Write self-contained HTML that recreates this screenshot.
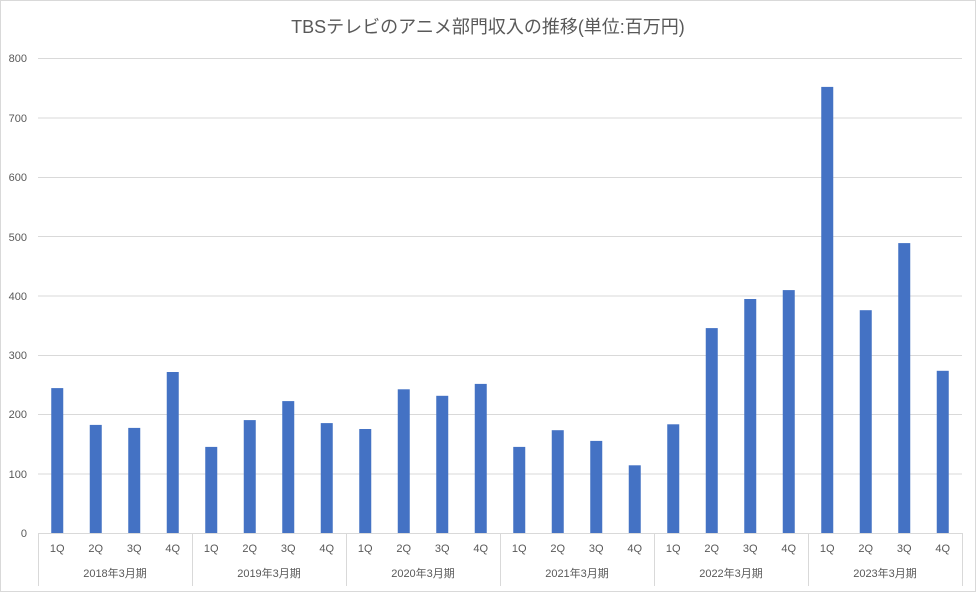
<!DOCTYPE html>
<html><head><meta charset="utf-8"><style>
html,body{margin:0;padding:0;background:#fff;}
svg text{font-family:"Liberation Sans","Noto Sans CJK JP",sans-serif;fill:#595959;}
</style></head><body>
<svg width="976" height="592" xmlns="http://www.w3.org/2000/svg">
<rect x="0.5" y="0.5" width="975" height="591" fill="#fff" stroke="#d9d9d9"/>
<text x="488" y="33" font-size="18" text-anchor="middle">TBSテレビのアニメ部門収入の推移(単位:百万円)</text>
<g stroke="#d9d9d9" stroke-width="1">
<line x1="38" x2="962" y1="58.5" y2="58.5"/>
<line x1="38" x2="962" y1="118" y2="118"/>
<line x1="38" x2="962" y1="177.5" y2="177.5"/>
<line x1="38" x2="962" y1="236.5" y2="236.5"/>
<line x1="38" x2="962" y1="296" y2="296"/>
<line x1="38" x2="962" y1="355.5" y2="355.5"/>
<line x1="38" x2="962" y1="414.5" y2="414.5"/>
<line x1="38" x2="962" y1="474" y2="474"/>
<line x1="38" x2="962" y1="533.5" y2="533.5"/>
<line x1="38.5" x2="38.5" y1="533" y2="586"/>
<line x1="192.5" x2="192.5" y1="533" y2="586"/>
<line x1="346.5" x2="346.5" y1="533" y2="586"/>
<line x1="500.5" x2="500.5" y1="533" y2="586"/>
<line x1="654.5" x2="654.5" y1="533" y2="586"/>
<line x1="808.5" x2="808.5" y1="533" y2="586"/>
<line x1="962.5" x2="962.5" y1="533" y2="586"/>
</g>
<g font-size="11" text-anchor="end">
<text x="27" y="62">800</text><text x="27" y="122">700</text><text x="27" y="181">600</text>
<text x="27" y="241">500</text><text x="27" y="300">400</text><text x="27" y="359">300</text>
<text x="27" y="418">200</text><text x="27" y="478">100</text><text x="27" y="537">0</text>
</g>
<g fill="#4472c4">
<rect x="51.25" y="388.1" width="12" height="144.9"/>
<rect x="89.75" y="424.9" width="12" height="108.1"/>
<rect x="128.25" y="427.9" width="12" height="105.1"/>
<rect x="166.75" y="372" width="12" height="161"/>
<rect x="205.25" y="446.9" width="12" height="86.1"/>
<rect x="243.75" y="420.1" width="12" height="112.9"/>
<rect x="282.25" y="401.1" width="12" height="131.9"/>
<rect x="320.75" y="423.1" width="12" height="109.9"/>
<rect x="359.25" y="429" width="12" height="104"/>
<rect x="397.75" y="389.3" width="12" height="143.7"/>
<rect x="436.25" y="395.8" width="12" height="137.2"/>
<rect x="474.75" y="383.9" width="12" height="149.1"/>
<rect x="513.25" y="446.9" width="12" height="86.1"/>
<rect x="551.75" y="430.2" width="12" height="102.8"/>
<rect x="590.25" y="440.9" width="12" height="92.1"/>
<rect x="628.75" y="465.3" width="12" height="67.7"/>
<rect x="667.25" y="424.3" width="12" height="108.7"/>
<rect x="705.75" y="328.1" width="12" height="204.9"/>
<rect x="744.25" y="299" width="12" height="234"/>
<rect x="782.75" y="290.1" width="12" height="242.9"/>
<rect x="821.25" y="86.9" width="12" height="446.1"/>
<rect x="859.75" y="310.2" width="12" height="222.8"/>
<rect x="898.25" y="243.1" width="12" height="289.9"/>
<rect x="936.75" y="370.8" width="12" height="162.2"/>
</g>
<g font-size="11" text-anchor="middle">
<text x="57.25" y="552">1Q</text><text x="95.75" y="552">2Q</text><text x="134.25" y="552">3Q</text><text x="172.75" y="552">4Q</text>
<text x="211.25" y="552">1Q</text><text x="249.75" y="552">2Q</text><text x="288.25" y="552">3Q</text><text x="326.75" y="552">4Q</text>
<text x="365.25" y="552">1Q</text><text x="403.75" y="552">2Q</text><text x="442.25" y="552">3Q</text><text x="480.75" y="552">4Q</text>
<text x="519.25" y="552">1Q</text><text x="557.75" y="552">2Q</text><text x="596.25" y="552">3Q</text><text x="634.75" y="552">4Q</text>
<text x="673.25" y="552">1Q</text><text x="711.75" y="552">2Q</text><text x="750.25" y="552">3Q</text><text x="788.75" y="552">4Q</text>
<text x="827.25" y="552">1Q</text><text x="865.75" y="552">2Q</text><text x="904.25" y="552">3Q</text><text x="942.75" y="552">4Q</text>
<text x="115" y="577">2018年3月期</text><text x="269" y="577">2019年3月期</text><text x="423" y="577">2020年3月期</text>
<text x="577" y="577">2021年3月期</text><text x="731" y="577">2022年3月期</text><text x="885" y="577">2023年3月期</text>
</g>
</svg>
</body></html>
